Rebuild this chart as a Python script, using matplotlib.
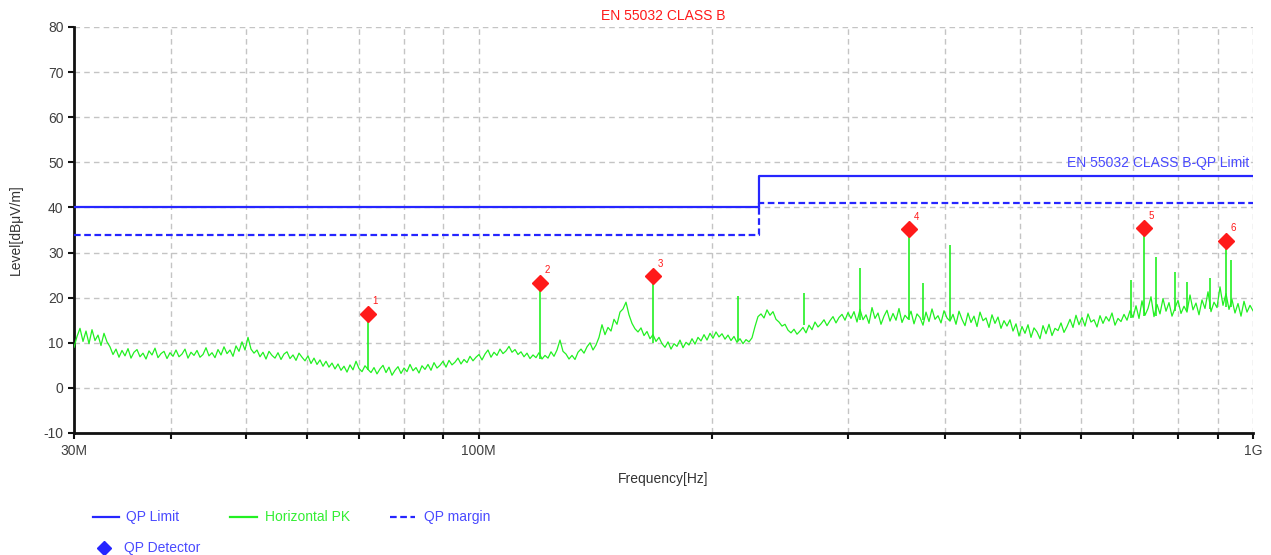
import numpy as np
import matplotlib
matplotlib.use("Agg")
import matplotlib.pyplot as plt
from matplotlib.lines import Line2D
from matplotlib.ticker import FixedLocator, NullFormatter

plt.rcParams['font.family'] = ['Liberation Sans', 'DejaVu Sans']
plt.rcParams['axes.unicode_minus'] = False

# ---------------- data ----------------
title = "EN 55032 CLASS B"
limit_label = "EN 55032 CLASS B-QP Limit"

limit_freq_mhz = [30, 230, 1000]
qp_limit_db = [40, 47, 47]
qp_margin_db = [34, 41, 41]

# Horizontal PK trace (dBµV/m), sampled evenly on a log-frequency grid 30 MHz .. 1 GHz
pk_trace_db = [
    9.0, 11.4, 13.2, 10.3, 12.6, 9.8, 12.9, 10.5, 11.7, 9.4, 12.1, 10.2,
    9.1, 7.4, 8.6, 6.8,
    8.3, 7.1, 8.7, 6.6, 7.9, 8.5, 6.9, 7.7, 6.4, 8.2, 7.3, 8.8, 6.7, 7.6, 8.1, 6.5, 7.8, 7.0, 8.4, 6.9,
    7.5, 8.6, 6.6, 7.9, 7.2, 8.3, 6.8, 7.4, 8.9, 7.1, 7.8, 6.7, 8.5, 7.3, 9.1, 7.6, 8.4, 7.0, 9.3, 8.1,
    10.2, 8.4, 11.2, 8.6,
    7.7, 8.4, 6.9, 7.9, 6.4, 8.1, 7.2, 6.6, 7.8, 6.3, 7.5, 8.0, 6.5, 7.3, 6.1, 7.7, 6.8,
    6.0, 7.1, 5.4, 6.6, 5.2, 6.2, 4.8, 5.9, 4.6, 5.5,
    4.2, 5.3, 3.9, 4.8, 3.5, 5.1, 4.0, 5.9, 4.3, 3.6, 4.9, 4.1, 3.4,
    4.5, 3.1, 4.2, 5.0, 3.4, 4.6, 2.8, 3.9, 4.7, 3.2, 4.4, 3.6, 5.2, 3.8, 4.5, 3.3, 4.9,
    4.1, 5.2, 3.9, 5.6, 4.4, 5.0, 5.9, 4.6, 6.1, 5.1, 5.7, 6.6, 5.3, 6.3, 5.6, 7.0, 6.0, 6.8, 7.4, 6.2,
    7.5, 8.4, 6.8, 7.9, 7.2, 8.6, 7.6, 8.2, 9.2, 7.9, 8.5, 7.4, 8.0, 6.9, 7.7, 6.5, 7.3, 6.7, 7.8, 6.4,
    7.2, 6.6, 8.0, 7.0, 8.4, 10.6, 8.1, 7.5, 6.4, 7.2, 6.3, 7.9, 8.6, 7.7, 9.1, 10.0, 8.4, 9.5, 11.2, 14.0,
    11.8, 13.4, 12.6, 15.2, 14.1, 16.8, 17.5, 19.0,
    16.2, 14.3, 13.1, 12.4, 13.3, 11.6, 12.5, 10.9, 11.8, 10.3, 11.2, 9.8,
    9.0, 10.2, 8.6, 9.8, 9.2, 10.6, 8.9, 10.1, 9.5, 10.9, 9.7, 11.2, 10.4, 11.8, 10.6,
    12.1, 11.0, 12.4, 11.3, 12.0, 10.8, 11.7, 10.5, 11.4, 10.1, 10.9, 9.8, 10.7, 10.2, 11.1,
    13.6, 15.8, 16.4, 15.5, 17.3, 16.1, 16.9,
    15.2, 14.6, 13.7, 14.1, 12.8, 12.2, 13.0, 11.9,
    12.6, 13.4, 12.2, 13.9, 12.9, 14.6, 13.5, 14.2, 15.1, 13.8, 14.9, 15.8, 14.4, 15.6, 16.3, 15.0, 16.7, 15.4,
    16.9, 14.6, 17.4, 15.1, 16.2, 14.3, 17.8, 15.4, 16.6, 14.1, 15.9, 17.2, 14.8, 16.5, 15.0, 17.6, 14.5,
    16.1, 15.3, 17.0, 14.2, 16.4, 15.6, 13.9, 16.8, 14.7, 17.5, 15.2, 16.0, 14.4, 17.1, 15.5, 14.8,
    16.3, 14.1, 17.0, 15.2, 13.8, 16.6, 14.5, 15.9, 13.6, 16.8, 14.9, 15.5, 13.4, 16.2, 14.3, 15.7, 13.2, 14.9, 13.7, 15.1,
    12.6, 14.2, 11.5, 13.6, 12.1, 14.0, 11.2, 13.3, 12.4, 10.9, 13.8, 12.0, 14.1, 11.6, 13.2, 12.7, 14.4, 12.3, 13.6,
    15.2, 13.4, 16.1, 14.0, 15.6, 13.7, 16.4, 14.6, 15.1, 13.5, 16.0, 14.3, 15.8, 14.8, 16.6, 13.9, 15.4, 14.7, 16.3, 15.0, 17.1, 15.6,
    18.2, 15.4, 19.3, 16.1, 17.6, 20.2, 15.8, 18.5, 16.4, 19.8, 17.0, 18.9, 15.9, 17.7, 19.4, 16.5, 18.1, 16.8, 20.6, 17.3,
    18.8, 16.2, 19.5, 17.6, 21.3, 16.9, 19.0, 17.8, 22.4, 18.3, 20.9, 17.4, 19.6, 16.6, 18.7, 15.9, 19.2, 16.8, 18.3, 17.1,
]

# narrow-band spikes of the PK trace: frequency (MHz), base and top level
spike_freq_mhz = [71.9, 120, 168, 216, 263, 311, 360, 375, 406, 696, 724, 750, 794, 822, 881, 923, 937]
spike_base_db = [4.0, 6.5, 10.0, 10.5, 14.0, 15.0, 15.0, 15.0, 15.0, 15.5, 16.0, 16.0, 17.0, 17.0, 17.5, 18.0, 18.0]
spike_top_db = [16.4, 23.3, 24.8, 20.4, 21.0, 26.6, 35.2, 23.2, 31.7, 23.9, 35.4, 29.1, 25.8, 23.5, 24.3, 32.6, 28.3]

# QP detector results
qp_freq_mhz = [71.9, 120, 168, 360, 724, 923]
qp_level_db = [16.4, 23.3, 24.8, 35.2, 35.4, 32.6]
qp_ids = ["1", "2", "3", "4", "5", "6"]

x_tick_mhz = [30, 100, 1000]
x_tick_labels = ["30M", "100M", "1G"]
y_ticks = list(range(-10, 81, 10))

# ---------------- styles ----------------
BLUE = "#2626ff"
BLUE_TXT = "#4a4aff"
GREEN = "#22f022"
GREEN_TXT = "#33ee33"
RED = "#ff1a1a"
GRID = "#c4c4c4"
TICKTXT = "#404040"

fig = plt.figure(figsize=(12.71, 5.55), dpi=100)
ax = fig.add_axes([74 / 1271, 1 - 433 / 555, (1253 - 74) / 1271, (433 - 27) / 555])

trace_freq = np.geomspace(30e6, 1e9, len(pk_trace_db))
ax.plot(trace_freq, pk_trace_db, color=GREEN, lw=0.9, zorder=3)
ax.vlines(np.array(spike_freq_mhz) * 1e6, spike_base_db, spike_top_db, color=GREEN, lw=1.2, zorder=3)

lf = np.array(limit_freq_mhz) * 1e6
ax.plot(lf, qp_limit_db, drawstyle="steps-post", color=BLUE, lw=1.6, zorder=4)
ax.plot(lf, qp_margin_db, drawstyle="steps-post", color=BLUE, lw=1.6, ls=(0, (3, 1.6)), zorder=4)

ax.plot(np.array(qp_freq_mhz) * 1e6, qp_level_db, ls="none", marker="D", ms=8,
        color=RED, markeredgecolor=RED, zorder=5)
for f, v, t in zip(qp_freq_mhz, qp_level_db, qp_ids):
    ax.annotate(t, (f * 1e6, v), xytext=(5, 9), textcoords="offset points",
                color=RED, fontsize=7, ha="center", va="center")

ax.set_xscale("log")
ax.set_xlim(30e6, 1e9)
ax.set_ylim(-10, 80)
ax.xaxis.set_major_locator(FixedLocator([m * 1e6 for m in x_tick_mhz]))
ax.set_xticklabels(x_tick_labels)
minor = [m * d * 1e6 for d in (10, 100) for m in range(2, 10) if 30 < m * d < 1000]
ax.xaxis.set_minor_locator(FixedLocator(minor))
ax.xaxis.set_minor_formatter(NullFormatter())
ax.set_yticks(y_ticks)

ax.grid(True, which="both", color=GRID, ls=(0, (4, 3)), lw=1.0)
ax.set_axisbelow(True)
for s in ("top", "right"):
    ax.spines[s].set_visible(False)
for s in ("left", "bottom"):
    ax.spines[s].set_linewidth(2)
    ax.spines[s].set_color("#111111")
ax.tick_params(axis="both", which="both", direction="out", length=4, width=1.5,
               colors="#111111", labelcolor=TICKTXT, labelsize=10)
ax.tick_params(axis="x", which="major", pad=4)

ax.set_title(title, color=RED, fontsize=10, pad=5)
ax.text(0.997, 48.3, limit_label, transform=ax.get_yaxis_transform(),
        ha="right", va="bottom", color=BLUE_TXT, fontsize=10)

ax.set_xlabel("Frequency[Hz]", color="#333333", fontsize=10, labelpad=10)
ax.set_ylabel("Level[dBμV/m]", color="#333333", fontsize=10, labelpad=15)

# ---------------- legend ----------------
def fx(px):
    return px / 1271

def fy(py):
    return 1 - py / 555

fig.add_artist(Line2D([fx(93), fx(119)], [fy(517), fy(517)], color=BLUE, lw=1.6))
fig.text(fx(126), fy(517), "QP Limit", color=BLUE_TXT, fontsize=10, va="center")
fig.add_artist(Line2D([fx(230), fx(257)], [fy(517), fy(517)], color=GREEN, lw=1.6))
fig.text(fx(265), fy(517), "Horizontal PK", color=GREEN_TXT, fontsize=10, va="center")
fig.add_artist(Line2D([fx(390), fx(415)], [fy(517), fy(517)], color=BLUE, lw=1.6, ls=(0, (3, 1.6))))
fig.text(fx(424), fy(517), "QP margin", color=BLUE_TXT, fontsize=10, va="center")
fig.add_artist(Line2D([fx(104)], [fy(548)], color=BLUE, marker="D", ms=7, ls="none"))
fig.text(fx(124), fy(548), "QP Detector", color=BLUE_TXT, fontsize=10, va="center")

fig.savefig("out.png", dpi=100)
